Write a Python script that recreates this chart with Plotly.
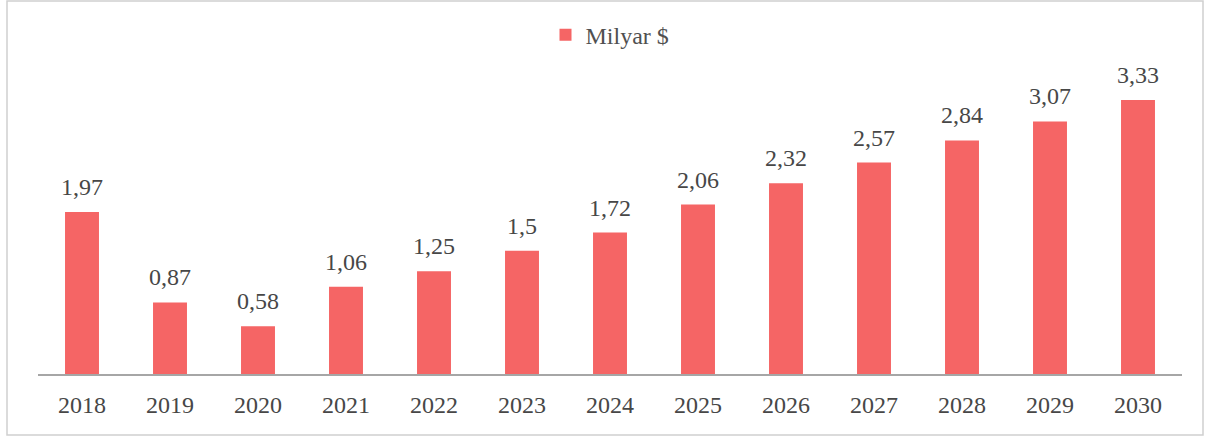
import plotly.graph_objects as go

years = ["2018", "2019", "2020", "2021", "2022", "2023", "2024",
         "2025", "2026", "2027", "2028", "2029", "2030"]
values = [1.97, 0.87, 0.58, 1.06, 1.25, 1.5, 1.72,
          2.06, 2.32, 2.57, 2.84, 3.07, 3.33]
series_name = "Milyar $"

labels = [f"{v:g}".replace(".", ",") for v in values]

W, H = 1212, 441
ml, mr, mt, mb = 38, 30, 45, 67
pw, ph = W - ml - mr, H - mt - mb
FONT = "Liberation Serif"
TXT = "#474747"

def px_x(x):
    return (x - ml) / pw

def px_y(y):
    return (H - mb - y) / ph

fig = go.Figure(go.Bar(
    x=years, y=values, name=series_name,
    marker=dict(color="#f56565", line=dict(width=0)),
    width=0.386,
))

# value labels above each bar (category index positions)
for i, (v, lab) in enumerate(zip(values, labels)):
    fig.add_annotation(x=i, y=v, text=lab, showarrow=False,
                       xref="x", yref="y",
                       yanchor="bottom", yshift=10,
                       font=dict(family=FONT, size=24, color=TXT))

fig.update_layout(
    width=W, height=H,
    margin=dict(l=ml, r=mr, t=mt, b=mb),
    paper_bgcolor="white", plot_bgcolor="white",
    font=dict(family=FONT, size=24, color=TXT),
    showlegend=True,
    legend=dict(orientation="h", x=0.5, xanchor="center", y=1.03, yanchor="middle",
                font=dict(family=FONT, size=24, color="#505050"),
                itemwidth=30),
    xaxis=dict(type="category", range=[-0.5, len(years) - 0.5],
               showline=True, linecolor="#a6a6a6", linewidth=1.5,
               ticks="", showgrid=False, ticklabelstandoff=8,
               tickfont=dict(family=FONT, size=24, color=TXT)),
    yaxis=dict(range=[0, 4], visible=False, showgrid=False),
    shapes=[dict(type="rect", xref="paper", yref="paper",
                 x0=px_x(7), x1=px_x(1203), y0=px_y(435), y1=px_y(1),
                 line=dict(color="#d0d0d0", width=1.5), fillcolor="rgba(0,0,0,0)")],
)

fig.write_html("out.html")
